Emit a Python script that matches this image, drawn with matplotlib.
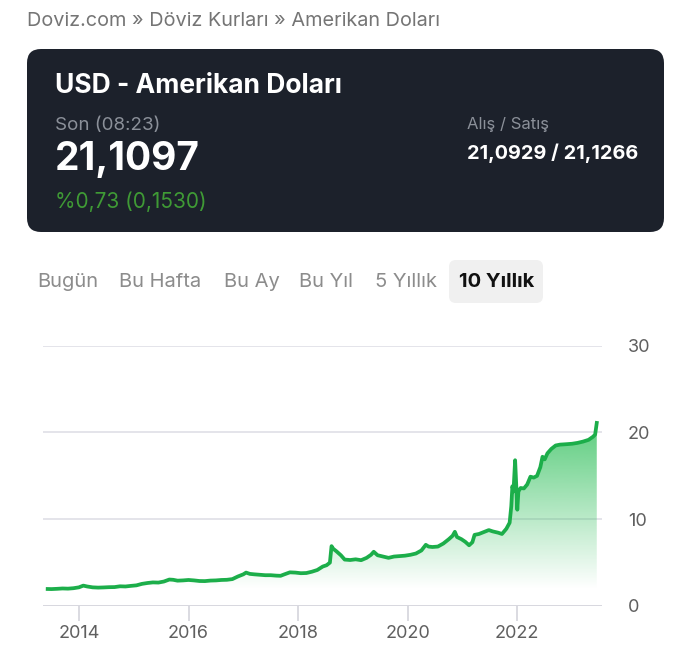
import numpy as np
import matplotlib
matplotlib.use("Agg")
import matplotlib.pyplot as plt
from matplotlib.patches import FancyBboxPatch

plt.rcParams['font.family'] = ['Inter', 'DejaVu Sans']

# USD/TRY, 10 years (decimal year, rate)
years = [2013.43, 2013.50, 2013.60, 2013.70, 2013.80, 2013.90, 2014.00, 2014.08, 2014.15, 2014.25,
         2014.35, 2014.45, 2014.55, 2014.65, 2014.75, 2014.85, 2014.95, 2015.05, 2015.15, 2015.25,
         2015.35, 2015.45, 2015.55, 2015.65, 2015.72, 2015.80, 2015.90, 2016.00, 2016.10, 2016.20,
         2016.30, 2016.40, 2016.50, 2016.60, 2016.70, 2016.80, 2016.90, 2017.00, 2017.05, 2017.12,
         2017.20, 2017.30, 2017.40, 2017.50, 2017.60, 2017.68, 2017.75, 2017.85, 2017.95, 2018.05,
         2018.15, 2018.25, 2018.35, 2018.45, 2018.52, 2018.58, 2018.61, 2018.64, 2018.70, 2018.78,
         2018.85, 2018.95, 2019.05, 2019.15, 2019.25, 2019.33, 2019.38, 2019.45, 2019.55, 2019.65,
         2019.75, 2019.85, 2019.95, 2020.05, 2020.15, 2020.25, 2020.33, 2020.38, 2020.45, 2020.55,
         2020.65, 2020.75, 2020.82, 2020.86, 2020.90, 2020.98, 2021.05, 2021.12, 2021.18, 2021.22,
         2021.30, 2021.40, 2021.48, 2021.55, 2021.65, 2021.72, 2021.80, 2021.86, 2021.89, 2021.91,
         2021.93, 2021.96, 2021.98, 2022.00, 2022.02, 2022.06, 2022.12, 2022.18, 2022.24, 2022.30,
         2022.36, 2022.42, 2022.46, 2022.50, 2022.55, 2022.62, 2022.70, 2022.78, 2022.90, 2023.00,
         2023.10, 2023.20, 2023.30, 2023.38, 2023.42, 2023.45]
rates = [1.96, 1.95, 1.98, 2.02, 2.00, 2.05, 2.15, 2.35, 2.25, 2.15,
         2.12, 2.14, 2.17, 2.18, 2.27, 2.25, 2.32, 2.38, 2.55, 2.65,
         2.72, 2.70, 2.82, 3.05, 3.02, 2.92, 2.95, 3.00, 2.95, 2.88,
         2.87, 2.93, 2.95, 3.00, 3.02, 3.10, 3.40, 3.65, 3.85, 3.70,
         3.65, 3.60, 3.55, 3.55, 3.50, 3.48, 3.65, 3.88, 3.85, 3.78,
         3.80, 3.95, 4.15, 4.55, 4.70, 5.00, 6.90, 6.60, 6.30, 5.85,
         5.35, 5.30, 5.38, 5.28, 5.55, 5.90, 6.25, 5.85, 5.70, 5.55,
         5.70, 5.75, 5.80, 5.90, 6.05, 6.40, 7.05, 6.85, 6.80, 6.85,
         7.20, 7.70, 8.10, 8.55, 7.95, 7.70, 7.40, 7.00, 7.35, 8.20,
         8.30, 8.55, 8.75, 8.60, 8.45, 8.30, 8.90, 9.60, 11.50, 13.80,
         13.20, 16.80, 14.00, 11.10, 13.20, 13.60, 13.55, 14.00, 14.90, 14.80,
         15.00, 16.00, 17.20, 16.90, 17.60, 18.10, 18.50, 18.60, 18.65, 18.70,
         18.80, 18.95, 19.15, 19.50, 19.75, 21.10]
x_ticks = [2014, 2016, 2018, 2020, 2022]
y_ticks = [0, 10, 20, 30]

tabs = ["Bugün", "Bu Hafta", "Bu Ay", "Bu Yıl", "5 Yıllık", "10 Yıllık"]

W, H = 690, 659
GREEN = "#1cae4a"
fig = plt.figure(figsize=(W / 100, H / 100), dpi=100)
fig.patch.set_facecolor("white")

# page layer in pixel coords (y down)
bg = fig.add_axes([0, 0, 1, 1])
bg.set_xlim(0, W); bg.set_ylim(H, 0); bg.axis("off")

bg.text(27, 21, "Doviz.com » Döviz Kurları » Amerikan Doları", color="#757575",
        fontsize=14.3, ha="left", va="center")

bg.add_patch(FancyBboxPatch((27, 49), 637, 183, boxstyle="round,pad=0,rounding_size=14",
                            facecolor="#1c212b", edgecolor="none"))
bg.text(55, 86, "USD - Amerikan Doları", color="white", fontsize=19,
        fontweight="bold", ha="left", va="center")
bg.text(55, 125, "Son (08:23)", color="#8b9099", fontsize=13.5, ha="left", va="center")
bg.text(55, 160, "21,1097", color="white", fontsize=28, fontweight="bold",
        ha="left", va="center")
bg.text(55, 202, "%0,73 (0,1530)", color="#3f9a35", fontsize=15, ha="left", va="center")
bg.text(467, 125, "Alış / Satış", color="#8b9099", fontsize=12, ha="left", va="center")
bg.text(467, 153, "21,0929 / 21,1266", color="white", fontsize=14.3,
        fontweight="bold", ha="left", va="center")

# period tabs
tab_x = [37, 119, 224, 299, 375, 459]
bg.add_patch(FancyBboxPatch((449, 260), 94, 43, boxstyle="round,pad=0,rounding_size=7",
                            facecolor="#f0f0f0", edgecolor="none"))
for i, (t, x) in enumerate(zip(tabs, tab_x)):
    active = i == len(tabs) - 1
    bg.text(x, 282, t, color="#111111" if active else "#8c8c8c", fontsize=14.5,
            fontweight="bold" if active else "normal", ha="left", va="center")

# chart
left, right = 43.3 / W, 601.7 / W
bottom, top = (H - 606) / H, (H - 345.7) / H
ax = fig.add_axes([left, bottom, right - left, top - bottom])
ax.set_facecolor("none")
x0, x1 = 2013.35, 2023.54

poly = ax.fill_between(years, rates, 0, color="none", linewidth=0)
grad = np.linspace(0, 21.2, 256)
rgba = np.zeros((256, 1, 4))
rgba[..., 0] = 0x2f / 255
rgba[..., 1] = 0xbf / 255
rgba[..., 2] = 0x5a / 255
rgba[:, 0, 3] = np.clip((grad - 2.0) / 19.0, 0, 1) * 0.78
im = ax.imshow(rgba, extent=[x0, x1, 0, 21.2], origin="lower", aspect="auto", zorder=1)
im.set_clip_path(poly.get_paths()[0], transform=ax.transData)

ax.plot(years, rates, color=GREEN, lw=2.7, zorder=3, solid_joinstyle="round")

for v in y_ticks:
    ax.axhline(v, color="#d4d4dc" if v == 0 else "#e2e2e8", lw=1.3, zorder=0)

ax.set_xlim(x0, x1)
ax.set_ylim(0, 30)
for s in ax.spines.values():
    s.set_visible(False)
ax.set_xticks(x_ticks)
ax.set_xticklabels([str(y) for y in x_ticks])
ax.set_yticks(y_ticks)
ax.yaxis.tick_right()
ax.tick_params(axis="x", length=11, width=1.2, color="#d4d4dc", labelcolor="#5f5f5f",
               labelsize=13, pad=3)
ax.tick_params(axis="y", length=0, labelcolor="#5f5f5f", labelsize=13, pad=19)
for lab in ax.get_yticklabels():
    lab.set_horizontalalignment("left")

fig.savefig("out.png", dpi=100, facecolor="white")
